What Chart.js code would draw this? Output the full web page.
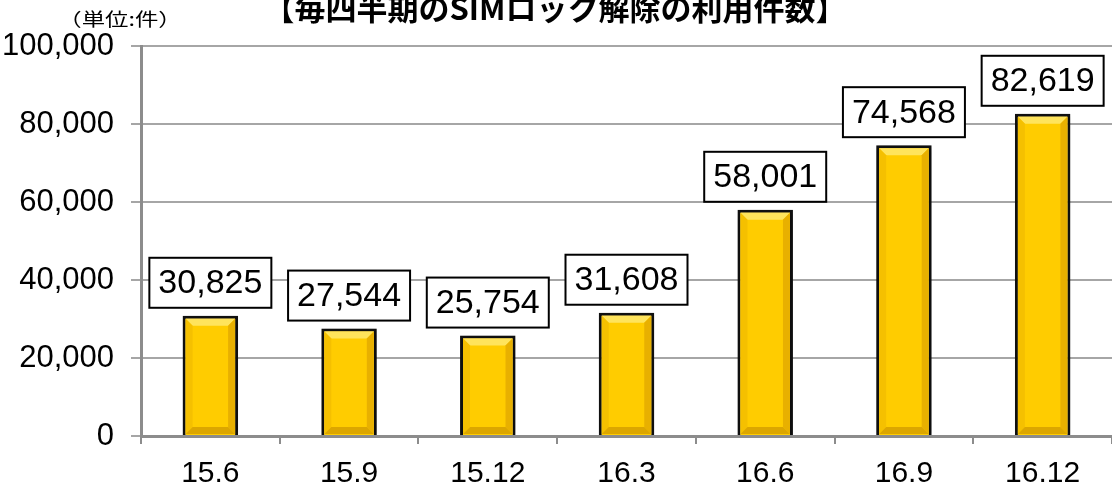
<!DOCTYPE html>
<html>
<head>
<meta charset="utf-8">
<script src="https://cdn.jsdelivr.net/npm/chart.js@4/dist/chart.umd.min.js"></script>
<style>
    html, body { margin: 0; padding: 0; background: #fff; }
    #wrap { width: 1112px; height: 494px; }
</style>
</head>
<body>
<div id="wrap"><canvas id="chart" width="1112" height="494"></canvas></div>
<script>
// quarter labels and SIM unlock counts
const categories = ['15.6', '15.9', '15.12', '16.3', '16.6', '16.9', '16.12'];
const unlockCounts = [30825, 27544, 25754, 31608, 58001, 74568, 82619];
const yMin = 0;
const yMax = 100000;
const yStep = 20000;
const titleText = '【毎四半期のSIMロック解除の利用件数】';
const unitText = '（単位:件）';

const numFont = '"Liberation Sans", Arial, sans-serif';
const jpFont = '"Noto Sans CJK JP", sans-serif';

// title + unit text
const headerPlugin = {
    id: 'header',
    afterDraw(chart) {
        let ctx = chart.ctx;
        ctx.save();
        ctx.fillStyle = '#000';
        ctx.textAlign = 'center';
        ctx.textBaseline = 'middle';
        ctx.font = 'bold 31px ' + jpFont;
        ctx.fillText(titleText, 555, 8);
        // unit text looks stretched sideways in the original
        ctx.translate(120, 19);
        ctx.scale(1.3, 1);
        ctx.font = '18px ' + jpFont;
        ctx.fillText(unitText, 0, 0);
        ctx.restore();
    }
};

// shadow + bevel on the bars
const bevelPlugin = {
    id: 'bevel',
    beforeDatasetDraw(chart) {
        let ctx = chart.ctx;
        ctx.shadowColor = 'rgba(0,0,0,0.35)';
        ctx.shadowBlur = 6;
        ctx.shadowOffsetX = 1;
        ctx.shadowOffsetY = 1;
    },
    afterDatasetDraw(chart, args) {
        let ctx = chart.ctx;
        ctx.shadowColor = 'rgba(0,0,0,0)';
        ctx.shadowBlur = 0;
        ctx.shadowOffsetX = 0;
        ctx.shadowOffsetY = 0;
        ctx.save();
        for (let bar of args.meta.data) {
            let l = bar.x - bar.width / 2 + 3;
            let r = bar.x + bar.width / 2 - 3;
            let t = bar.y + 3;
            let b = bar.base - 1;
            let d = 7;
            // top bevel
            ctx.fillStyle = '#ffe45c';
            ctx.beginPath();
            ctx.moveTo(l, t); ctx.lineTo(r, t); ctx.lineTo(r - d, t + d); ctx.lineTo(l + d, t + d);
            ctx.closePath(); ctx.fill();
            // left side
            ctx.fillStyle = '#f5c000';
            ctx.beginPath();
            ctx.moveTo(l, t); ctx.lineTo(l + d, t + d); ctx.lineTo(l + d, b - d); ctx.lineTo(l, b);
            ctx.closePath(); ctx.fill();
            // right side
            ctx.fillStyle = '#e8b000';
            ctx.beginPath();
            ctx.moveTo(r, t); ctx.lineTo(r - d, t + d); ctx.lineTo(r - d, b - d); ctx.lineTo(r, b);
            ctx.closePath(); ctx.fill();
            // bottom
            ctx.fillStyle = '#dca600';
            ctx.beginPath();
            ctx.moveTo(l, b); ctx.lineTo(l + d, b - d); ctx.lineTo(r - d, b - d); ctx.lineTo(r, b);
            ctx.closePath(); ctx.fill();
        }
        ctx.restore();
    }
};

// value boxes above bars
const valueBoxPlugin = {
    id: 'valueBox',
    afterDatasetsDraw(chart) {
        let ctx = chart.ctx;
        let meta = chart.getDatasetMeta(0);
        ctx.save();
        ctx.font = '34px ' + numFont;
        ctx.textAlign = 'center';
        ctx.textBaseline = 'middle';
        meta.data.forEach((bar, i) => {
            let txt = unlockCounts[i].toLocaleString('en-US');
            let w = ctx.measureText(txt).width + 18;
            let h = 50;
            let x = bar.x - w / 2;
            let y = bar.y - 8 - h;
            ctx.fillStyle = '#fff';
            ctx.fillRect(x, y, w, h);
            ctx.strokeStyle = '#000';
            ctx.lineWidth = 2;
            ctx.strokeRect(x, y, w, h);
            ctx.fillStyle = '#000';
            ctx.fillText(txt, bar.x, y + h / 2 + 1);
        });
        ctx.restore();
    }
};

let context = document.getElementById('chart').getContext('2d');
let chart = new Chart(context, {
    type: 'bar',
    data: {
        labels: categories,
        datasets: [{
            data: unlockCounts,
            backgroundColor: '#ffcc00',
            borderColor: '#111',
            borderWidth: 3,
            barPercentage: 0.4,
            categoryPercentage: 1.0
        }]
    },
    options: {
        responsive: false,
        animation: false,
        layout: { padding: { top: 46, right: 0, left: 0, bottom: 0 } },
        plugins: {
            legend: { display: false },
            title: { display: false },
            tooltip: { enabled: false }
        },
        scales: {
            x: {
                grid: {
                    display: true,
                    drawOnChartArea: false,
                    drawTicks: true,
                    tickLength: 8,
                    color: '#8c8c8c',
                    lineWidth: 2
                },
                border: { color: '#8c8c8c', width: 3 },
                ticks: {
                    color: '#000',
                    padding: 12,
                    font: { family: numFont, size: 30 }
                },
                afterFit(scale) { scale.height = 58; }
            },
            y: {
                min: yMin,
                max: yMax,
                grid: {
                    color: '#a6a6a6',
                    lineWidth: 2,
                    drawTicks: true,
                    tickLength: 10
                },
                border: { color: '#8c8c8c', width: 3 },
                ticks: {
                    stepSize: yStep,
                    color: '#000',
                    padding: 17,
                    font: { family: numFont, size: 31 },
                    callback: v => v.toLocaleString('en-US')
                },
                afterFit(scale) { scale.width = 141; }
            }
        }
    },
    plugins: [bevelPlugin, valueBoxPlugin, headerPlugin]
});
</script>
</body>
</html>
